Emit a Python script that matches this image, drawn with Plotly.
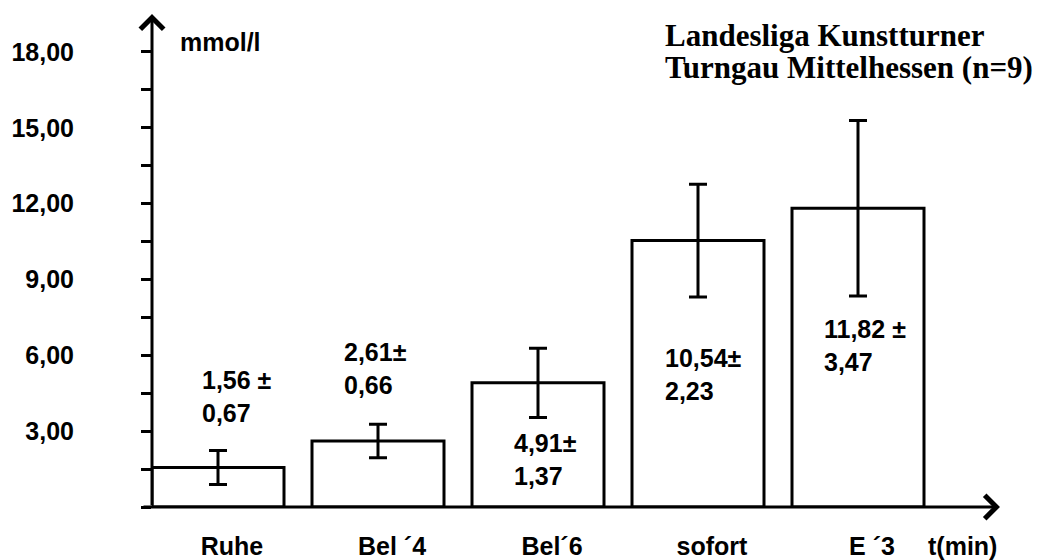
import plotly.graph_objects as go

# ---- data ----
categories = ["Ruhe", "Bel ´4", "Bel´6", "sofort", "E ´3"]
means = [1.56, 2.61, 4.91, 10.54, 11.82]
sds = [0.67, 0.66, 1.37, 2.23, 3.47]
pm_sep = [" ", "", "", "", " "]
y_tickvals = [0, 1.5, 3, 4.5, 6, 7.5, 9, 10.5, 12, 13.5, 15, 16.5, 18]
y_ticktext = ["", "", "3,00", "", "6,00", "", "9,00", "", "12,00", "", "15,00", "", "18,00"]
title_lines = ["Landesliga Kunstturner", "Turngau Mittelhessen (n=9)"]
y_unit = "mmol/l"
x_unit = "t(min)"

# ---- layout geometry (page pixels; the page body has an 8px margin) ----
OFF = 8
W, H = 1044 - OFF, 560 - OFF
L, R, T, B = 152 - OFF, 1000 - OFF, 14 - OFF, 507 - OFF
def px(x):
    return (x - OFF - L) / (R - L)
def py(y):
    return (B - (y - OFF)) / (B - T)

# value-label positions (left x, vertical middle y) in page pixels
label_pos = [(200, 396), (342, 368), (512, 459), (663, 374), (822, 346)]

sans = "Liberation Sans, Arial, sans-serif"
serif = "Liberation Serif, Times New Roman, serif"

fig = go.Figure()
fig.add_trace(go.Bar(
    x=categories, y=means, width=0.825,
    marker=dict(color="white", line=dict(color="black", width=3)),
    error_y=dict(type="data", array=sds, visible=True, color="black", thickness=3, width=9),
    showlegend=False,
))

annotations = []
for m, s, sep, (lx, ly) in zip(means, sds, pm_sep, label_pos):
    txt = f"{m:.2f}".replace(".", ",") + sep + "±<br>" + f"{s:.2f}".replace(".", ",")
    annotations.append(dict(
        x=px(lx), y=py(ly), xref="paper", yref="paper", xanchor="left", yanchor="middle",
        align="left", text=txt, showarrow=False,
        font=dict(family=sans, size=25, color="black", weight="bold"),
    ))

# axis arrows
annotations.append(dict(x=1, y=0, xref="paper", yref="y", ax=-(R - L + 10), ay=0,
                        axref="pixel", ayref="pixel", text="", showarrow=True,
                        arrowhead=4, arrowsize=1.5, arrowwidth=3, arrowcolor="black", standoff=0))
annotations.append(dict(x=0, y=1, xref="paper", yref="paper", ax=0, ay=(B - T),
                        text="", showarrow=True,
                        arrowhead=4, arrowsize=1.5, arrowwidth=3, arrowcolor="black", standoff=0))

# units
annotations.append(dict(x=px(178), y=py(42), xref="paper", yref="paper", xanchor="left", yanchor="middle",
                        text=y_unit, showarrow=False,
                        font=dict(family=sans, size=25, color="black", weight="bold")))
annotations.append(dict(x=px(962), y=py(546), xref="paper", yref="paper", xanchor="center", yanchor="middle",
                        text=x_unit, showarrow=False,
                        font=dict(family=sans, size=25, color="black", weight="bold")))

# title
annotations.append(dict(x=px(663), y=py(35), xref="paper", yref="paper", xanchor="left", yanchor="middle",
                        text=title_lines[0], showarrow=False,
                        font=dict(family=serif, size=31, color="black", weight="bold")))
annotations.append(dict(x=px(663), y=py(68), xref="paper", yref="paper", xanchor="left", yanchor="middle",
                        text=title_lines[1], showarrow=False,
                        font=dict(family=serif, size=31, color="black", weight="bold")))

fig.update_layout(
    width=W, height=H,
    margin=dict(l=L, r=W - R, t=T, b=H - B, pad=0, autoexpand=False),
    paper_bgcolor="white", plot_bgcolor="white",
    annotations=annotations,
    xaxis=dict(
        type="category", range=[-0.4125, 4.8875], showline=False, showgrid=False, zeroline=False,
        automargin=False,
        ticks="", ticklabelshift=14, ticklabelstandoff=22,
        tickfont=dict(family=sans, size=25, color="black", weight="bold"),
    ),
    yaxis=dict(
        range=[0, 19.5], showline=False, showgrid=False, zeroline=False,
        automargin=False,
        tickmode="array", tickvals=y_tickvals, ticktext=y_ticktext,
        ticks="outside", ticklen=10, tickwidth=3, tickcolor="black",
        ticklabelstandoff=62,
        tickfont=dict(family=sans, size=25, color="black", weight="bold"),
    ),
)

fig.write_html("out.html")
